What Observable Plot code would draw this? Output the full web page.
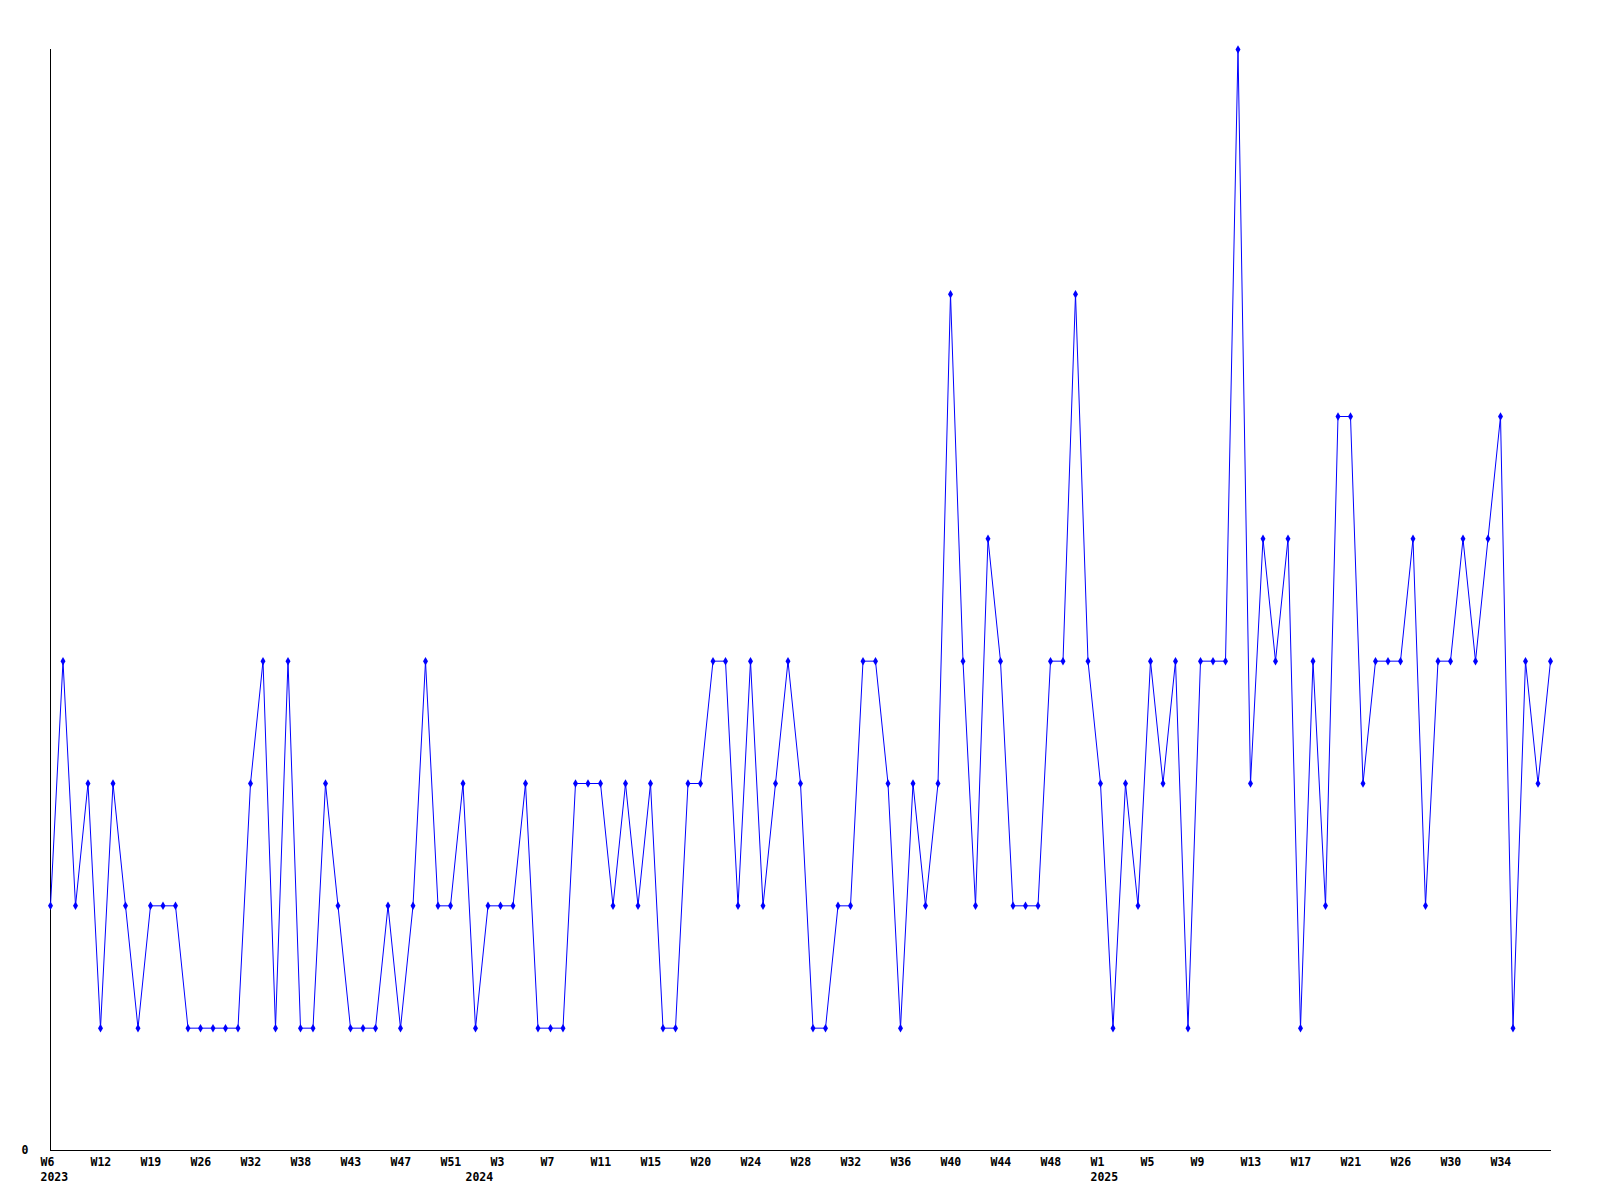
<!DOCTYPE html>
<html>
<head>
<meta charset="utf-8">
<script src="https://cdn.jsdelivr.net/npm/d3@7"></script>
<script src="https://cdn.jsdelivr.net/npm/@observablehq/plot@0.6"></script>
<style>
  html, body { margin: 0; padding: 0; background: #fff; }
  #chart svg { display: block; }
</style>
</head>
<body>
<div id="chart"></div>
<script>
// Week keys (year + ISO week), in order of the series
const years = [2023, 2024, 2025];
const weeks2023 = [6, 8, 9, 11, 12, 14, 16, 17, 19, 21, 22, 24, 26, 27, 29, 30, 32, 33, 35, 36, 38, 39, 40, 42, 43, 44, 45, 46, 47, 48, 49, 50, 51, 52];
const weeks2024 = [1, 2, 3, 4, 5, 6, 7, 8, 9, 10, 11, 12, 13, 14, 15, 16, 18, 19, 20, 21, 22, 23, 24, 25, 26, 27, 28, 29, 30, 31, 32, 33, 34, 35, 36, 37, 38, 39, 40, 41, 42, 43, 44, 45, 46, 47, 48, 49, 50, 51];
const weeks2025 = [1, 2, 3, 4, 5, 6, 7, 8, 9, 10, 11, 12, 13, 14, 15, 16, 17, 18, 19, 20, 21, 22, 23, 25, 26, 27, 28, 29, 30, 31, 32, 33, 34, 35, 36, 37, 38];

// Weekly counts
const counts = [
  2, 4, 2, 3, 1, 3, 2, 1, 2, 2, 2, 1, 1, 1, 1, 1, 3, 4, 1, 4,
  1, 1, 3, 2, 1, 1, 1, 2, 1, 2, 4, 2, 2, 3, 1, 2, 2, 2, 3, 1,
  1, 1, 3, 3, 3, 2, 3, 2, 3, 1, 1, 3, 3, 4, 4, 2, 4, 2, 3, 4,
  3, 1, 1, 2, 2, 4, 4, 3, 1, 3, 2, 3, 7, 4, 2, 5, 4, 2, 2, 2,
  4, 4, 7, 4, 3, 1, 3, 2, 4, 3, 4, 1, 4, 4, 4, 9, 3, 5, 4, 5,
  1, 4, 2, 6, 6, 3, 4, 4, 4, 5, 2, 4, 4, 5, 4, 5, 6, 1, 4, 3,
  4
];

const weekLists = [weeks2023, weeks2024, weeks2025];
const data = [];
years.forEach((yr, k) => weekLists[k].forEach(w => data.push({key: `${yr}-W${w}`, year: yr, week: w})));
data.forEach((d, i) => d.value = counts[i]);

const keys = data.map(d => d.key);
// a label every 4th week, none on the last point
const weekTicks = keys.filter((_, i) => i % 4 === 0 && i < keys.length - 1);
const yearTicks = years.map(yr => data.find(d => d.year === yr).key);
const byKey = new Map(data.map(d => [d.key, d]));

const font = "'DejaVu Sans Mono', 'Liberation Mono', monospace";

const chart = Plot.plot({
  width: 1600,
  height: 1200,
  marginLeft: 50,
  marginRight: 50,
  marginTop: 49,
  marginBottom: 50,
  style: {fontFamily: font, fontSize: "11.5px", fontWeight: "bold", background: "#fff", color: "#000"},
  x: {type: "point", domain: keys, padding: 0, axis: null, label: null},
  y: {domain: [0, 9], axis: null, label: null},
  marks: [
    Plot.axisX({ticks: weekTicks, tickSize: 0, tickPadding: 7, textAnchor: "start", dx: -10, label: null,
      tickFormat: k => "W" + byKey.get(k).week, fontWeight: "bold"}),
    Plot.axisX({ticks: yearTicks, tickSize: 0, tickPadding: 22, textAnchor: "start", dx: -10, label: null,
      tickFormat: k => String(byKey.get(k).year), fontWeight: "bold"}),
    Plot.axisY({ticks: [0], tickSize: 0, tickPadding: 22, label: null, tickFormat: d => String(d), fontWeight: "bold"}),
    Plot.frame({anchor: "left", stroke: "#000"}),
    Plot.frame({anchor: "bottom", stroke: "#000"}),
    Plot.line(data, {x: "key", y: "value", stroke: "#0000ff", strokeWidth: 1}),
    Plot.dot(data, {x: "key", y: "value", symbol: "diamond", r: 2.6, fill: "#0000ff", stroke: "none"})
  ]
});
document.getElementById("chart").appendChild(chart);
</script>
</body>
</html>
